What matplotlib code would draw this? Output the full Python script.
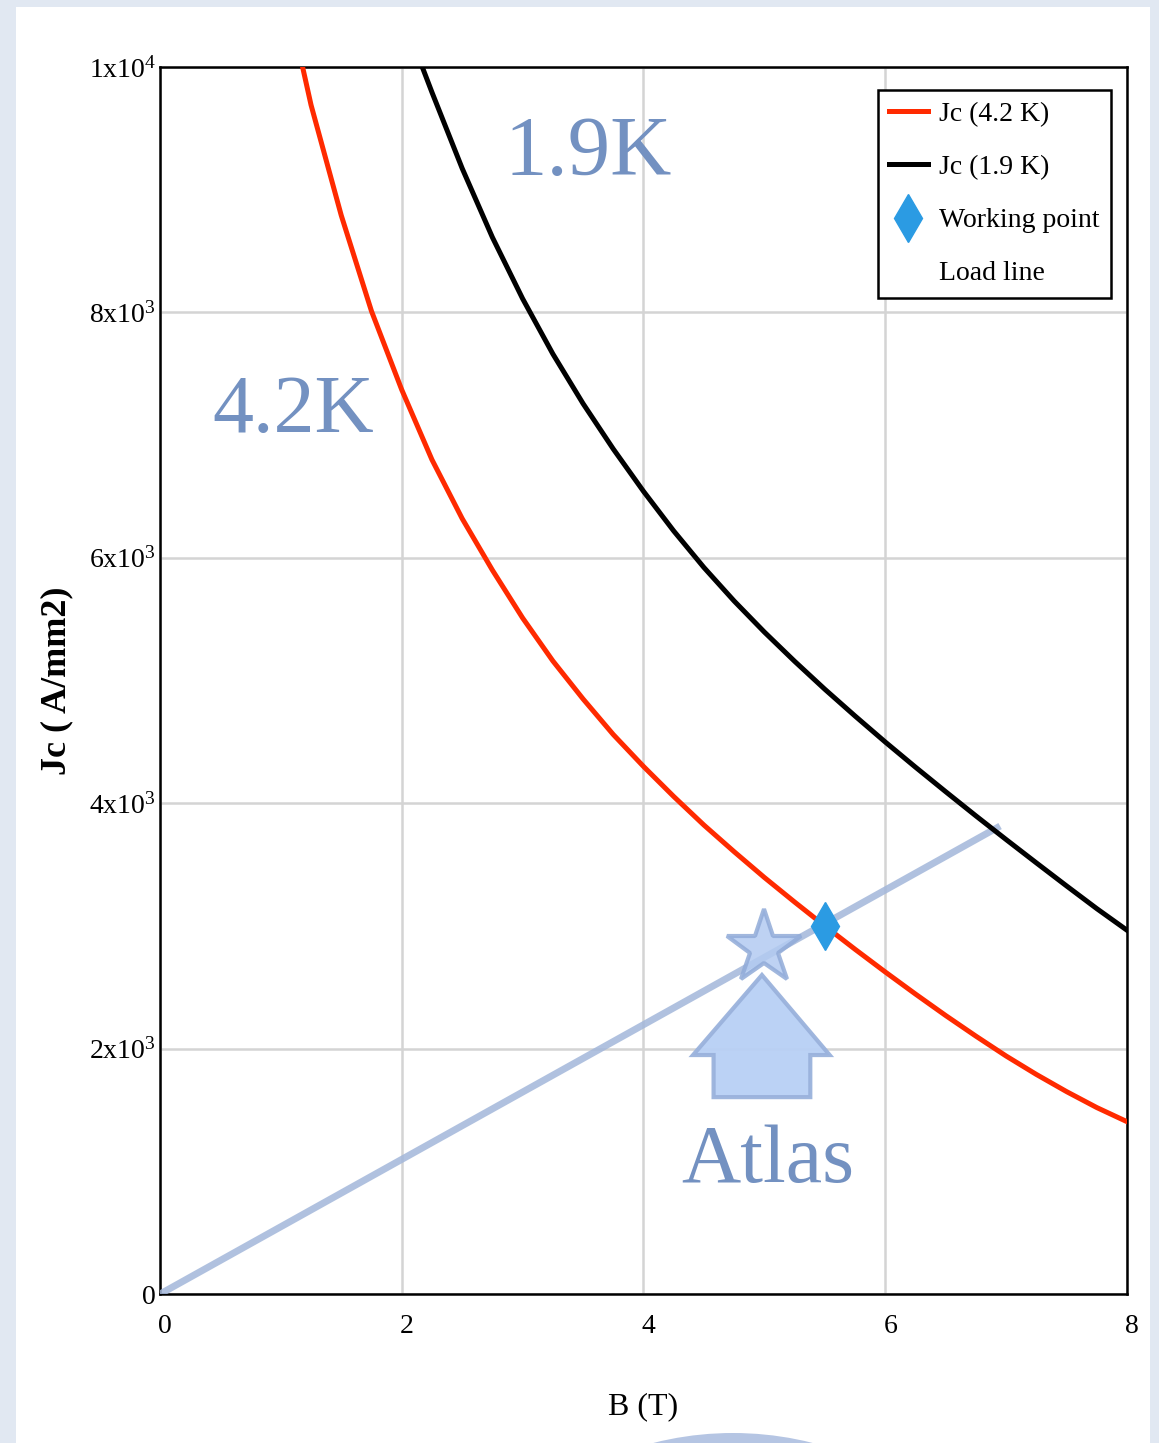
import matplotlib.pyplot as plt
from matplotlib.lines import Line2D
from matplotlib.patches import Rectangle, Polygon, Ellipse
from matplotlib.transforms import ScaledTranslation

plt.rcParams['font.family'] = ['Liberation Serif', 'DejaVu Serif']
plt.rcParams['mathtext.fontset'] = 'custom'
plt.rcParams['mathtext.rm'] = 'Liberation Serif'
plt.rcParams['mathtext.it'] = 'Liberation Serif'
plt.rcParams['mathtext.default'] = 'rm'

# Jc(B), B in T, Jc in A/mm2
b_42 = [1.18, 1.25, 1.5, 1.75, 2.0, 2.25, 2.5, 2.75, 3.0, 3.25, 3.5, 3.75, 4.0,
        4.25, 4.5, 4.75, 5.0, 5.25, 5.5, 5.75, 6.0, 6.25, 6.5, 6.75, 7.0,
        7.25, 7.5, 7.75, 8.0]
jc_42 = [10000, 9690, 8790, 8010, 7370, 6800, 6320, 5900, 5510, 5160, 4850, 4560, 4300,
         4055, 3822, 3605, 3395, 3195, 3000, 2810, 2625, 2445, 2270, 2102, 1940,
         1790, 1650, 1520, 1405]
b_19 = [2.17, 2.25, 2.5, 2.75, 3.0, 3.25, 3.5, 3.75, 4.0, 4.25, 4.5, 4.75, 5.0,
        5.25, 5.5, 5.75, 6.0, 6.25, 6.5, 6.75, 7.0, 7.25, 7.5, 7.75, 8.0]
jc_19 = [10000, 9794, 9174, 8612, 8112, 7662, 7257, 6887, 6542, 6219, 5921, 5648, 5395,
         5157, 4929, 4711, 4499, 4294, 4094, 3897, 3704, 3514, 3326, 3141, 2965]

b_load = [0, 6.95]
jc_load = [0, 3814]
b_work, jc_work = 5.50, 3000
b_atlas, jc_atlas = 5.0, 2820

# house-shaped arrow under the Atlas star
arrow_b = [4.98, 5.54, 5.38, 5.38, 4.58, 4.58, 4.41]
arrow_jc = [2600, 1948, 1948, 1605, 1605, 1948, 1948]

xticks = [0, 2, 4, 6, 8]
yticks = [0, 2000, 4000, 6000, 8000, 10000]
ytick_labels = ['0', r'2x10$^3$', r'4x10$^3$', r'6x10$^3$', r'8x10$^3$', r'1x10$^4$']

txt_col = '#7391c1'

fig = plt.figure(figsize=(11.59, 14.43), dpi=100)
fig.patch.set_facecolor('#e1e8f2')
fig.patches.append(Rectangle((16 / 1159, 0), 1134 / 1159, 1 - 7 / 1443,
                             transform=fig.transFigure, facecolor='white',
                             edgecolor='none', zorder=-2))
fig.patches.append(Ellipse((733 / 1159, 1 - 1758 / 1443), 650 / 1159, 650 / 1443,
                           transform=fig.transFigure, facecolor='#b5c5e3',
                           edgecolor='none', zorder=-1))

ax = fig.add_axes([0.138, 0.1032, 0.8344, 0.8504])
ax.set_zorder(2)
ax.set_facecolor('white')

ax.plot(b_load, jc_load, color='#a3b7da', lw=5, alpha=0.85, solid_capstyle='butt', zorder=3)
ax.plot(b_42, jc_42, color='#ff2a00', lw=3.6, zorder=4)
ax.plot(b_19, jc_19, color='black', lw=3.6, zorder=4)
ax.plot([b_atlas], [jc_atlas], marker='*', markersize=56, color='#b3cbf1',
        markeredgecolor='#91abd8', markeredgewidth=3, alpha=0.85, zorder=5)
ax.add_patch(Polygon(list(zip(arrow_b, arrow_jc)), closed=True, facecolor='#b8d0f5',
                     edgecolor='#9ab2dc', lw=3, alpha=0.95, zorder=5))
ax.plot([b_work], [jc_work], marker='d', markersize=24, color='#2b9be3',
        linestyle='none', zorder=6)

ax.text(2.85, 9120, '1.9K', fontsize=61, color=txt_col, ha='left', va='baseline')
ax.text(0.43, 7025, '4.2K', fontsize=59, color=txt_col, ha='left', va='baseline')
ax.text(4.31, 913, 'Atlas', fontsize=59, color=txt_col, ha='left', va='baseline')

ax.set_xlim(0, 8)
ax.set_ylim(0, 10000)
ax.set_xticks(xticks)
ax.set_yticks(yticks)
ax.set_yticklabels(ytick_labels)
ax.grid(True, color='#d4d4d4', lw=1.8)
ax.set_axisbelow(True)
ax.tick_params(length=0, labelsize=20)
ax.tick_params(axis='x', pad=14)
ax.tick_params(axis='y', pad=3)
for lbl in ax.get_xticklabels():
    lbl.set_transform(lbl.get_transform() + ScaledTranslation(5 / 100, 0, fig.dpi_scale_trans))
for s in ax.spines.values():
    s.set_linewidth(1.8)
    s.set_color('black')

ax.set_xlabel('B (T)', fontsize=23)
ax.xaxis.set_label_coords(0.5, -0.08)
ax.set_ylabel('Jc ( A/mm2)', fontsize=26, fontweight='bold')
ax.yaxis.set_label_coords(-0.09, 0.5)

handles = [Line2D([], [], color='#ff2a00', lw=3.6),
           Line2D([], [], color='black', lw=3.6),
           Line2D([], [], marker='d', markersize=24, color='#2b9be3', linestyle='none'),
           Line2D([], [], color='none')]
labels = ['Jc (4.2 K)', 'Jc (1.9 K)', 'Working point', 'Load line']
leg = ax.legend(handles, labels, loc='upper right', bbox_to_anchor=(0.983, 0.981),
                fontsize=20, fancybox=False, framealpha=1, edgecolor='black',
                handlelength=1.4, handletextpad=0.4, labelspacing=1.0,
                borderpad=0.4, borderaxespad=0)
leg.get_frame().set_linewidth(1.8)

fig.savefig('out.png', dpi=100, facecolor=fig.get_facecolor())
